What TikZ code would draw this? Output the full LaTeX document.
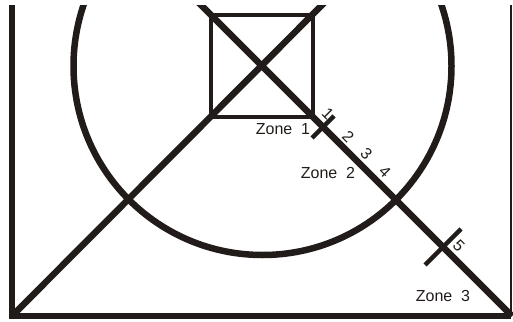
\documentclass[tikz,border=0pt]{standalone}
\usepackage{fontspec}
\setmainfont{Liberation Sans}
\usepackage{xcolor}
\usepackage{tikz}
\definecolor{traco}{HTML}{211C19}
\tikzset{
  grossa/.style={draw=traco, line width=6.5pt},
  fina/.style={draw=traco, line width=2pt},
  garrafao/.style={draw=traco, line width=3.5pt},
  marca/.style={draw=traco, line width=4.5pt},
  zona/.style={font=\fontsize{16}{18}\selectfont, inner sep=0pt, text=traco},
  numero/.style={font=\fontsize{16}{18}\selectfont, rotate=-45, inner sep=0pt, text=traco},
}

\begin{document}
\begin{tikzpicture}[x=1pt, y=-1pt]
  \useasboundingbox (0,0) rectangle (513,321);
  \clip (0,6) rectangle (513,321);
  \coordinate (cesq) at (12,316);
  \coordinate (cdir) at (511,316);
  \coordinate (topo) at (262.5,66);
  \draw[grossa, line join=miter] (12,0) -- (cesq) -- (cdir);
  \draw[fina] (511,0) -- (cdir);
  \draw[grossa] (topo) circle (189);
  \draw[grossa] (cesq) -- (327,0);
  \draw[grossa] (196,0) -- (512,316);
  \draw[garrafao] (211,15) rectangle (313,117);
  \draw[marca] (312,138) -- (334,116);
  \draw[marca] (425,265) -- (461,229);
  \node[numero] (n1) at (328,114) {1};
  \node[numero] (n2) at (348.3,136.7) {2};
  \node[numero] (n3) at (366.3,154.2) {3};
  \node[numero] (n4) at (384.8,172.2) {4};
  \node[numero] (n5) at (458.8,246.2) {5};
  \node[zona] (z1) at (283,129) {Zone\ \ 1};
  \node[zona] (z2) at (328,173) {Zone\ \ 2};
  \node[zona] (z3) at (443,296) {Zone\ \ 3};
\end{tikzpicture}
\end{document}
